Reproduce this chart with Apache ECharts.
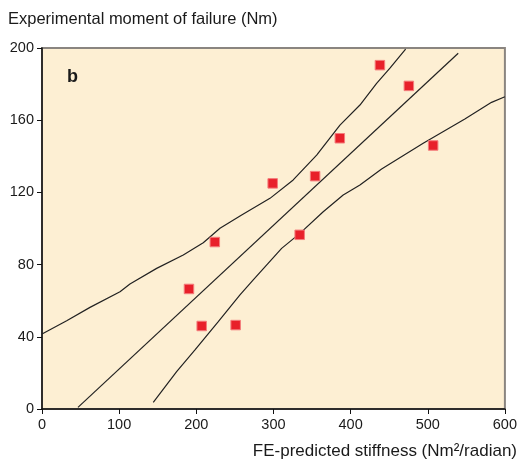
<!DOCTYPE html>
<html>
<head>
<meta charset="utf-8">
<script src="https://cdn.jsdelivr.net/npm/echarts@6/dist/echarts.min.js"></script>
<style>html,body{margin:0;padding:0;background:#fff;}#c{width:520px;height:462px;}</style>
</head>
<body>
<div id="c"></div>
<script>
// Measured points: [FE-predicted stiffness, experimental moment of failure]
const measuredX = [190.5, 207, 224, 251, 299, 334, 354, 386, 438, 475.5, 507];
const measuredY = [66.5, 46, 92.5, 46.5, 125, 96.5, 129, 150, 190.5, 179, 146];

// Regression line end points
const fitX = [46.6, 539.5];
const fitY = [0.9, 197.1];

// Upper confidence curve
const upperX = [0, 32, 62.2, 101.1, 114, 148.6, 183.1, 209, 230.7, 258.8, 295.5, 325.6, 356, 386.2, 412.1, 433.7, 451, 471.3];
const upperY = [41.6, 48.9, 56.3, 65.0, 69.3, 77.9, 85.3, 92.1, 100.1, 107.5, 116.7, 126.9, 140.7, 157.3, 168.4, 180.4, 188.8, 199.4];

// Lower confidence curve
const lowerX = [144.2, 174.5, 198.3, 228.5, 256.6, 273.8, 310.6, 334.3, 364.5, 390.4, 412.1, 440.2, 494.1, 548.1, 582.7, 600];
const lowerY = [3.7, 20.7, 32.7, 48.4, 63.2, 71.5, 89.0, 97.3, 109.3, 118.6, 124.1, 133.0, 147.2, 160.7, 169.9, 173.0];

const xTicks = [0, 100, 200, 300, 400, 500, 600];
const yTicks = [0, 40, 80, 120, 160, 200];

const zip = (a, b) => a.map((v, i) => [v, b[i]]);
const FONT = '"Liberation Sans", Arial, sans-serif';

const chart = echarts.init(document.getElementById('c'), null, {renderer: 'canvas'});
const lineStyle = {color: '#222', width: 1.2};
chart.setOption({
  animation: false,
  grid: {left: 42, right: 15, top: 48, bottom: 53, show: true,
         backgroundColor: '#fdefd3', borderColor: '#8a8580', borderWidth: 2},
  xAxis: {
    type: 'value', min: xTicks[0], max: xTicks[xTicks.length - 1], interval: 100,
    axisLine: {lineStyle: {color: '#111', width: 1.5}},
    axisTick: {show: true, length: 5, lineStyle: {color: '#111'}},
    axisLabel: {color: '#1a1a1a', fontSize: 14.5, fontFamily: FONT, margin: 8},
    splitLine: {show: false}
  },
  yAxis: {
    type: 'value', min: yTicks[0], max: yTicks[yTicks.length - 1], interval: 40,
    axisLine: {show: true, lineStyle: {color: '#111', width: 1.5}},
    axisTick: {show: true, length: 5, lineStyle: {color: '#111'}},
    axisLabel: {color: '#1a1a1a', fontSize: 14.5, fontFamily: FONT, margin: 8},
    splitLine: {show: false}
  },
  series: [
    {type: 'line', data: zip(upperX, upperY), showSymbol: false, lineStyle, z: 2},
    {type: 'line', data: zip(lowerX, lowerY), showSymbol: false, lineStyle, z: 2},
    {type: 'line', data: zip(fitX, fitY), showSymbol: false, lineStyle, z: 2},
    {type: 'scatter', data: zip(measuredX, measuredY), symbol: 'rect', symbolSize: 9.5,
     itemStyle: {color: '#e8202a', borderColor: '#f47c7c', borderWidth: 1, opacity: 1}, z: 3}
  ],
  graphic: [
    {type: 'text', left: 8, top: 11,
     style: {text: 'Experimental moment of failure (Nm)', fill: '#1a1a1a', font: '16.5px ' + FONT}},
    {type: 'text', right: 3, top: 443,
     style: {text: 'FE-predicted stiffness (Nm²/radian)', fill: '#1a1a1a', font: '17px ' + FONT}},
    {type: 'text', left: 67, top: 68,
     style: {text: 'b', fill: '#1a1a1a', font: 'bold 18px ' + FONT}}
  ]
});
</script>
</body>
</html>
